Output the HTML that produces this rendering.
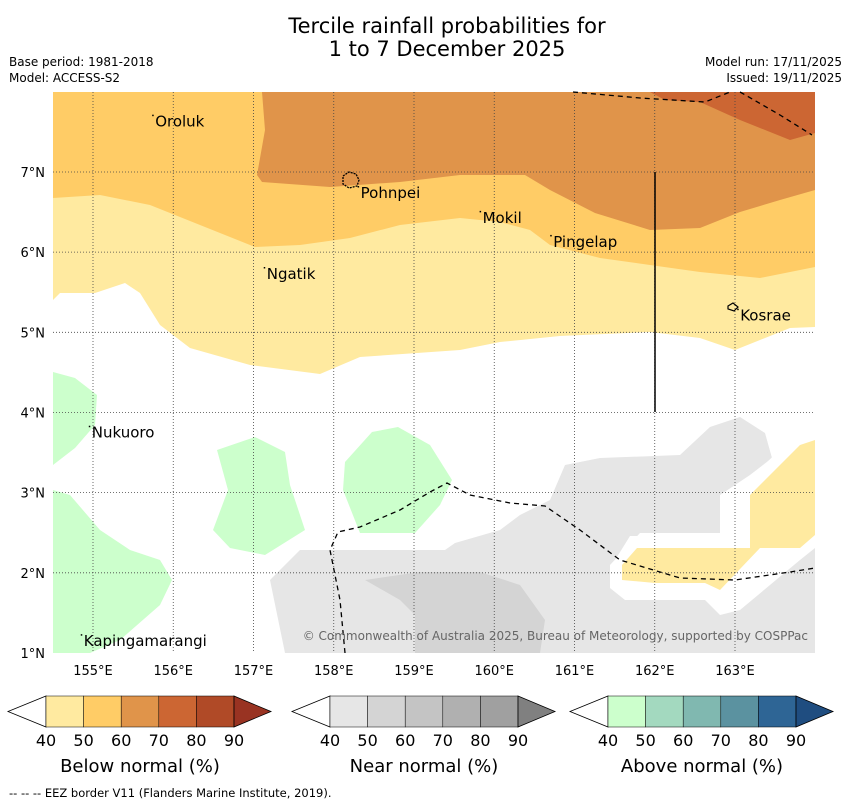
<!DOCTYPE html>
<html><head><meta charset="utf-8"><style>
body{margin:0;background:#fff;font-family:"Liberation Sans","DejaVu Sans",sans-serif}
svg text{font-family:"DejaVu Sans","Liberation Sans",sans-serif}
</style></head><body>
<svg id="c" width="850" height="804" xmlns="http://www.w3.org/2000/svg">
<text x="447" y="33" font-size="21" text-anchor="middle">Tercile rainfall probabilities for</text>
<text x="447" y="56" font-size="21" text-anchor="middle">1 to 7 December 2025</text>
<text x="9" y="66" font-size="12">Base period: 1981-2018</text>
<text x="9" y="82" font-size="12">Model: ACCESS-S2</text>
<text x="842" y="66" font-size="12" text-anchor="end">Model run: 17/11/2025</text>
<text x="842" y="82" font-size="12" text-anchor="end">Issued: 19/11/2025</text>
<g id="map"></g>
<g id="bars"></g>
<text x="9" y="797" font-size="11.5">--  --  -- EEZ border V11 (Flanders Marine Institute, 2019).</text>
</svg>
<script>
const lonTicks=[155,156,157,158,159,160,161,162,163];
const latTicks=[1,2,3,4,5,6,7];
const places=["Oroluk","Pohnpei","Mokil","Pingelap","Ngatik","Kosrae","Nukuoro","Kapingamarangi"];
const placeLon=[155.75,158.31,159.83,160.71,157.14,163.04,154.96,154.86];
const placeLat=[7.64,6.75,6.44,6.14,5.74,5.22,3.76,1.16];
const NS="http://www.w3.org/2000/svg";
const X=lon=>93+(lon-155)*80.25, Y=lat=>653-(lat-1)*80.17;
const map=document.getElementById('map');
function el(t,a,p){const e=document.createElementNS(NS,t);for(const k in a)e.setAttribute(k,a[k]);(p||map).appendChild(e);return e;}
const shapes=[
["#ffeaa0","53,92 815,92 815,327 790,328 760,340 735,350 700,338 650,332 560,336 500,342 460,350 360,357 320,374 250,365 190,348 160,325 140,293 125,283 95,293 60,293 53,300","yellow-below-40"],
["#ffcc66","53,92 815,92 815,267 760,278 700,272 650,265 600,258 550,245 530,230 500,222 460,218 400,225 350,238 300,245 255,247 200,225 150,205 100,195 53,198","orange-below-50"],
["#e0944a","262,92 815,92 815,190 780,200 740,212 700,228 650,230 595,213 550,190 525,175 460,175 400,182 330,187 262,182 257,175 265,130","darkorange-below-60"],
["#cc6633","650,92 815,92 815,133 790,140 740,120 700,102 665,100","red-below-70"],
["#ccffcc","53,372 75,378 97,395 95,425 75,448 53,465","green-nukuoro"],
["#ccffcc","53,490 70,495 100,530 130,550 160,560 172,580 160,605 120,640 90,653 53,653","green-kapinga"],
["#ccffcc","217,450 255,437 285,452 290,485 305,530 265,555 230,548 213,530 228,490","green-mid1"],
["#ccffcc","345,462 372,432 398,427 430,445 452,480 440,505 415,533 360,533 343,490","green-mid2"],
["#e6e6e6","270,580 300,550 445,550 455,543 500,530 520,515 550,500 565,465 600,458 680,455 710,427 740,417 765,433 772,458 750,475 720,495 720,533 640,533 610,565 610,588 625,600 705,600 720,615 740,610 800,560 815,548 815,653 285,653","grey-near-40"],
["#ffffff","815,428 790,440 738,490 738,533 720,536 630,536 612,565 614,590 700,595 718,605 770,555 815,545","white-gap"],
["#ffeaa0","815,440 800,445 750,495 750,548 637,548 622,565 622,580 655,583 705,583 720,590 760,548 800,548 815,535","yellow-right"],
["#d4d4d4","365,580 420,572 480,572 520,585 545,620 540,653 415,653 415,615 400,600","grey-near-50"]];
shapes.forEach(s=>{const p=el('polygon',{points:s[1],fill:s[0]});

});
lonTicks.forEach(l=>{const x=X(l);el('line',{x1:x,x2:x,y1:92,y2:653,stroke:'#444','stroke-width':0.8,'stroke-dasharray':'1,2'});
const t=el('text',{x:x,y:675,'font-size':13,'text-anchor':'middle'});t.textContent=l+'°E';

});
latTicks.forEach(l=>{const y=Y(l);if(l>1)el('line',{x1:53,x2:815,y1:y,y2:y,stroke:'#444','stroke-width':0.8,'stroke-dasharray':'1,2'});
const t=el('text',{x:45,y:y+5,'font-size':13,'text-anchor':'end'});t.textContent=l+'°N';

});
const dash={fill:'none',stroke:'#000','stroke-width':1.3,'stroke-dasharray':'5,4'};
['345,653 340,600 330,550 338,532 360,527 400,510 430,492 447,483 470,495 510,503 545,506 580,530 620,560 680,578 735,580 790,572 815,568','573,92 640,98 705,102 730,92','740,92 780,115 812,135'].forEach(p=>{const e=el('polyline',Object.assign({points:p},dash));

});
el('line',{x1:655,x2:655,y1:172,y2:412,stroke:'#000','stroke-width':1.5});
el('path',{d:'M343,176 l6,-4 l7,2 l3,6 l-2,6 l-8,2 l-6,-4z',fill:'none',stroke:'#000','stroke-width':1.3,'stroke-dasharray':'2,1'});
el('path',{d:'M728,306 l5,-3 l5,4 l-4,4 l-6,-2z',fill:'none',stroke:'#000','stroke-width':1.2});
places.forEach((n,i)=>{const x=X(placeLon[i]),y=Y(placeLat[i]);
el('rect',{x:x-1,y:y-6,width:1.5,height:1.5,fill:'#000'});
const t=el('text',{x:x+2,y:y+6,'font-size':15});t.textContent=n;

});
const cr=el('text',{x:808,y:640,'font-size':12,'text-anchor':'end',fill:'#666'});cr.textContent='© Commonwealth of Australia 2025, Bureau of Meteorology, supported by COSPPac';
// colorbars
const barTicks=[40,50,60,70,80,90];
const barTitles=["Below normal (%)","Near normal (%)","Above normal (%)"];
const barColors=[["#ffeaa0","#ffcc66","#e0944a","#cc6633","#b04a27","#993322"],["#e6e6e6","#d4d4d4","#c4c4c4","#b0b0b0","#a0a0a0","#808080"],["#ccffcc","#a3d9bf","#80b8b0","#5b92a0","#2e6595","#1f4d80"]];
const barX=[46,330,608];
const bars=document.getElementById('bars');
barX.forEach((x0,b)=>{const g=el('g',{},bars);


const w=37.6;
el('polygon',{points:`${x0-38},711.5 ${x0},696 ${x0},727`,fill:'#fff',stroke:'#000','stroke-width':0.8},g);
for(let i=0;i<5;i++)el('rect',{x:x0+i*w,y:696,width:w,height:31,fill:barColors[b][i],stroke:'#000','stroke-width':0.5},g);
el('polygon',{points:`${x0+5*w},696 ${x0+5*w+37},711.5 ${x0+5*w},727`,fill:barColors[b][5],stroke:'#000','stroke-width':0.8},g);
barTicks.forEach((v,i)=>{const t=el('text',{x:x0+i*w,y:746,'font-size':16,'text-anchor':'middle'},g);t.textContent=v;});
const tt=el('text',{x:x0+94,y:772,'font-size':18,'text-anchor':'middle'},g);tt.textContent=barTitles[b];});
</script>
</body></html>
